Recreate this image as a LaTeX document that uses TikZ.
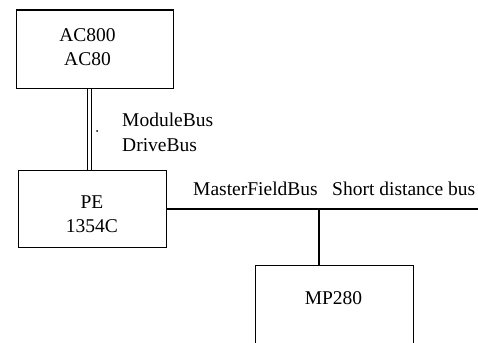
\documentclass[tikz,border=0pt]{standalone}
\usepackage{fontspec}
\setmainfont{Liberation Serif}
\newfontfamily\tms{Liberation Serif}
\begin{document}
\begin{tikzpicture}[x=1pt,y=-1pt,
  box/.style={draw,line width=1.4pt,inner sep=0pt,rectangle},
  lbl/.style={inner sep=0pt,font=\tms\fontsize{19.5}{24}\selectfont},
  wire/.style={line width=1.4pt},
  dbl/.style={double,line width=1.4pt,double distance=3pt}]
\useasboundingbox (0,0) rectangle (478,342);
\clip (0,0) rectangle (478,342);
% boxes
\node[box,minimum width=157pt,minimum height=78.5pt,anchor=north west] (ac) at (16,9.5) {};
\node[box,minimum width=148pt,minimum height=77pt,anchor=north west] (pe) at (18,170) {};
\node[box,minimum width=158pt,minimum height=100pt,anchor=north west] (mp) at (255,265) {};
% texts
\node[lbl,anchor=base] (t1) at (87.5,42) {AC800};
\node[lbl,anchor=base] (t2) at (87.5,66) {AC80};
\node[lbl,anchor=base] (t3) at (92,208) {PE};
\node[lbl,anchor=base] (t4) at (92,232) {1354C};
\node[lbl,anchor=base] (t5) at (333.5,304) {MP280};
\node[lbl,anchor=base west] (l1) at (122,126) {ModuleBus};
\node[lbl,anchor=base west] (l2) at (122,151) {DriveBus};
\node[lbl,anchor=base west] (l3) at (193,195) {MasterFieldBus};
\node[lbl,anchor=base west] (l4) at (332,195) {Short distance bus};
\fill (97,131) circle (1pt);
% connectors
\coordinate (dl) at (89.5,120);
\coordinate (busend) at (480,209);
\coordinate (tap) at (319,209);
\draw[dbl] (ac.south -| dl) -- (pe.north -| dl);
\draw[wire] (pe.east |- busend) -- (busend);
\draw[wire] (tap) -- (tap |- mp.north);
\end{tikzpicture}
\end{document}
